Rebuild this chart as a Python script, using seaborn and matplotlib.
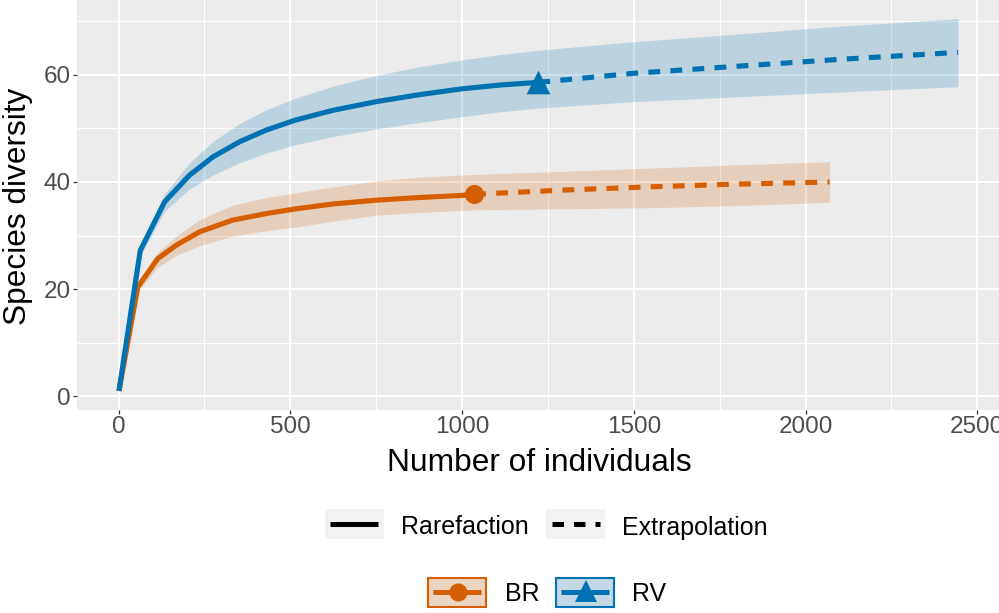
import numpy as np
import pandas as pd
import matplotlib
matplotlib.use("Agg")
import matplotlib.pyplot as plt
import seaborn as sns
from matplotlib.patches import Rectangle
from matplotlib.lines import Line2D

# ---------------- data ----------------
sites = ["BR", "RV"]
methods = ["Rarefaction", "Extrapolation"]
site_colors = ["#D55E00", "#0072B2"]

br_rare_m = [1, 56, 114, 168, 236, 333, 430, 517, 625, 750, 875, 1000, 1035]
br_rare_qd = [1, 20.4, 25.7, 28.2, 30.7, 32.9, 34.1, 35.0, 35.9, 36.6, 37.1, 37.5, 37.7]
br_rare_lo = [1, 19.6, 24.1, 26.3, 28.1, 29.9, 30.9, 31.6, 32.7, 33.8, 34.3, 34.7, 34.8]
br_rare_hi = [1, 21.2, 26.9, 29.9, 33.0, 35.7, 37.1, 38.0, 39.1, 40.2, 40.9, 41.3, 41.4]
br_ext_m = [1035, 1300, 1550, 1800, 2070]
br_ext_qd = [37.7, 38.5, 39.1, 39.6, 40.0]
br_ext_lo = [34.8, 35.0, 35.2, 35.6, 36.2]
br_ext_hi = [41.4, 42.0, 42.6, 43.2, 43.8]

rv_rare_m = [1, 63, 134, 207, 275, 352, 430, 517, 625, 750, 875, 1000, 1110, 1222]
rv_rare_qd = [1, 27.2, 36.3, 41.3, 44.7, 47.5, 49.7, 51.6, 53.4, 55.0, 56.3, 57.4, 58.1, 58.6]
rv_rare_lo = [1, 26.2, 34.6, 38.7, 41.3, 43.6, 45.4, 47.0, 48.5, 49.9, 51.1, 52.2, 53.1, 53.8]
rv_rare_hi = [1, 28.2, 37.8, 43.6, 47.6, 50.9, 53.5, 55.7, 57.9, 59.9, 61.5, 62.8, 63.8, 64.6]
rv_ext_m = [1222, 1500, 1800, 2100, 2444]
rv_ext_qd = [58.6, 60.3, 61.6, 62.9, 64.2]
rv_ext_lo = [53.8, 55.0, 55.9, 56.8, 57.8]
rv_ext_hi = [64.6, 66.2, 67.6, 69.1, 70.5]

observed_m = [1035, 1222]
observed_qd = [37.7, 58.6]

x_ticks = [0, 500, 1000, 1500, 2000, 2500]
y_ticks = [0, 20, 40, 60]
x_label = "Number of individuals"
y_label = "Species diversity"

# ---------------- build tidy table ----------------
rows = []
for site, parts in [
    ("BR", [("Rarefaction", br_rare_m, br_rare_qd, br_rare_lo, br_rare_hi),
            ("Extrapolation", br_ext_m, br_ext_qd, br_ext_lo, br_ext_hi)]),
    ("RV", [("Rarefaction", rv_rare_m, rv_rare_qd, rv_rare_lo, rv_rare_hi),
            ("Extrapolation", rv_ext_m, rv_ext_qd, rv_ext_lo, rv_ext_hi)]),
]:
    for method, m, q, lo, hi in parts:
        for a, b, c, d in zip(m, q, lo, hi):
            rows.append(dict(site=site, method=method, m=a, qD=b, lo=c, hi=d))
df = pd.DataFrame(rows)
obs = pd.DataFrame(dict(site=sites, m=observed_m, qD=observed_qd))
palette = dict(zip(sites, site_colors))

# ---------------- style ----------------
sns.set_theme(style="darkgrid", rc={
    "axes.facecolor": "#EBEBEB",
    "figure.facecolor": "white",
    "lines.solid_capstyle": "butt",
    "lines.dash_capstyle": "butt",
    "lines.solid_joinstyle": "round",
})
plt.rcParams["font.family"] = ["Liberation Sans", "DejaVu Sans"]

W, H = 999, 613
fig = plt.figure(figsize=(W / 100, H / 100), dpi=100)
ax_left, ax_right, ax_bottom, ax_top = 77, 1000, 409.5, 0
ax = fig.add_axes([ax_left / W, 1 - ax_bottom / H,
                   (ax_right - ax_left) / W, (ax_bottom - ax_top) / H])

# confidence bands
for site in sites:
    d = df[df.site == site].drop_duplicates("m").sort_values("m")
    ax.fill_between(d.m, d.lo, d.hi, color=palette[site], alpha=0.2, lw=0, zorder=2)

# curves
sns.lineplot(data=df, x="m", y="qD", hue="site", style="method",
             palette=palette, dashes={"Rarefaction": "", "Extrapolation": (2.3, 2.0)},
             style_order=methods, linewidth=3.7, estimator=None, legend=False,
             ax=ax, zorder=3)

# observed points
sns.scatterplot(data=obs[obs.site == "BR"], x="m", y="qD", color=palette["BR"],
                marker="o", s=190, linewidth=0, ax=ax, legend=False, zorder=4)
sns.scatterplot(data=obs[obs.site == "RV"], x="m", y="qD", color=palette["RV"],
                marker="^", s=290, linewidth=0, ax=ax, legend=False, zorder=4)

ax.set_xlim(-121.2, 2566.2)
ax.set_ylim(-2.48, 73.98)
ax.set_xticks(x_ticks)
ax.set_xticks(np.arange(250, 2600, 500), minor=True)
ax.set_yticks(y_ticks)
ax.set_yticks([10, 30, 50, 70], minor=True)
ax.grid(which="major", color="white", lw=1.5)
ax.grid(which="minor", color="white", lw=0.75)
ax.tick_params(which="major", length=3, width=0.9, color="#333333",
               labelsize=17.5, labelcolor="#4D4D4D", pad=1.5,
               bottom=True, left=True)
ax.tick_params(which="minor", length=0)
for s in ax.spines.values():
    s.set_visible(False)

ax.set_xlabel(x_label, fontsize=22.8, color="black")
ax.set_ylabel(y_label, fontsize=22.8, color="black")
ax.xaxis.set_label_coords((539.5 - ax_left) / (ax_right - ax_left),
                          (ax_bottom - 448) / (ax_bottom - ax_top))
ax.yaxis.set_label_coords((33.3 - ax_left) / (ax_right - ax_left),
                          (ax_bottom - 206) / (ax_bottom - ax_top))

# ---------------- legends (figure pixel coordinates) ----------------
lax = fig.add_axes([0, 0, 1, 1])
lax.set_xlim(0, W)
lax.set_ylim(H, 0)
lax.axis("off")

key_bg = "#F2F2F2"
# linetype legend
lax.add_patch(Rectangle((325, 509), 59, 30, fc=key_bg, ec="none"))
lax.add_line(Line2D([330, 378], [524, 524], color="black", lw=3.6, solid_capstyle="butt"))
lax.text(401, 534.5, methods[0], fontsize=18, va="baseline", ha="left", color="black")
lax.add_patch(Rectangle((545.5, 509), 59.5, 30, fc=key_bg, ec="none"))
lax.add_line(Line2D([551.7, 599.5], [524, 524], color="black", lw=3.6,
                    dashes=(2.3, 2.0), dash_capstyle="butt"))
lax.text(622, 534.5, methods[1], fontsize=18, va="baseline", ha="left", color="black")

# site legend
key_fill = {"BR": "#ECD4C2", "RV": "#C2D8E5"}
key_x = {"BR": 428.3, "RV": 556.0}
text_x = {"BR": 505, "RV": 632}
markers = {"BR": ("o", 13), "RV": ("^", 16.5)}
for site in sites:
    x0 = key_x[site]
    c = palette[site]
    lax.add_patch(Rectangle((x0, 578.3), 58, 28.4, fc=key_fill[site], ec=c, lw=1.5))
    lax.add_line(Line2D([x0 + 5, x0 + 53], [592.3, 592.3], color=c, lw=3.6,
                        solid_capstyle="butt"))
    mk, ms = markers[site]
    lax.add_line(Line2D([x0 + 29.5], [592.3 - (1.5 if mk == "^" else 0)], marker=mk,
                        markersize=ms, color=c, markeredgewidth=0, linestyle="none"))
    lax.text(text_x[site], 601, site, fontsize=18, va="baseline", ha="left", color="black")

fig.savefig("out.png", dpi=100)
